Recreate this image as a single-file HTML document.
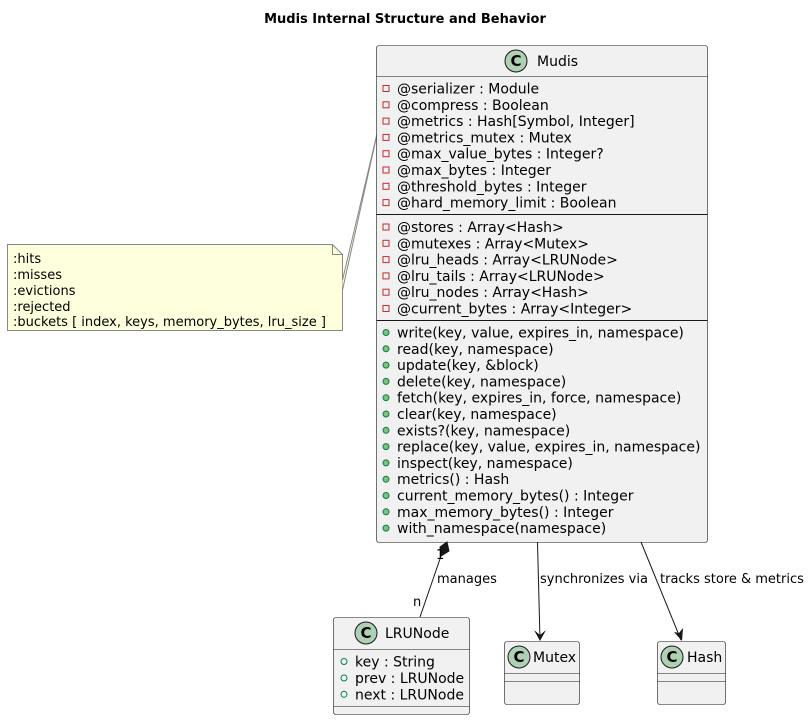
<!DOCTYPE html>
<html><head><meta charset="utf-8"><style>
html,body{margin:0;padding:0;background:#fff;}
svg{display:block;}
text{font-family:"DejaVu Sans","Liberation Sans",sans-serif;font-size:13px;fill:#000;}
.m{font-size:14px;}
.b{font-weight:bold;}
</style></head><body>
<svg width="810" height="720" viewBox="0 0 810 720" xmlns="http://www.w3.org/2000/svg">
<defs>
<g id="cic"><circle cx="0" cy="0" r="11" fill="#ADD1B2" stroke="#181818" stroke-width="1"/><text x="0" y="5" text-anchor="middle" style="font-size:15px;font-weight:bold">C</text></g>
<g id="priv"><rect x="-3" y="-3" width="6" height="6" fill="none" stroke="#C82930" stroke-width="1"/></g>
<g id="pub"><circle cx="0" cy="0" r="3" fill="#84BE84" stroke="#038048" stroke-width="1"/></g>
<g id="pubo"><circle cx="0" cy="0" r="3" fill="none" stroke="#038048" stroke-width="1"/></g>
</defs>
<text x="405" y="23" text-anchor="middle" class="b">Mudis Internal Structure and Behavior</text>

<!-- Note -->
<path d="M7.5,244.5 L332.5,244.5 L342.5,254.5 L342.5,330.5 L7.5,330.5 Z" fill="#FEFFDD" stroke="#888" stroke-width="1"/>
<path d="M332.5,244.5 L332.5,254.5 L342.5,254.5" fill="none" stroke="#888"/>
<path d="M342.5,280 L380,121 L342.5,290" fill="#FEFFDD" stroke="#888" stroke-width="1"/>
<text x="13" y="263">:hits</text>
<text x="13" y="279">:misses</text>
<text x="13" y="295">:evictions</text>
<text x="13" y="311">:rejected</text>
<text x="13" y="326">:buckets [ index, keys, memory_bytes, lru_size ]</text>

<!-- Mudis -->
<rect x="376.5" y="45.5" width="331" height="497" rx="2.5" fill="#F1F1F1" stroke="#181818" stroke-width="0.6"/>
<line x1="376.5" y1="76.5" x2="707.5" y2="76.5" stroke="#181818" stroke-width="0.6"/>
<line x1="376.5" y1="214.5" x2="707.5" y2="214.5" stroke="#181818" stroke-width="1"/>
<line x1="376.5" y1="320.5" x2="707.5" y2="320.5" stroke="#181818" stroke-width="1"/>
<use href="#cic" x="516" y="61"/>
<text x="537" y="66" class="m">Mudis</text>
<g class="m">
<use href="#priv" x="386" y="88.5"/><text class="m" x="397" y="93.5">@serializer : Module</text>
<use href="#priv" x="386" y="104.8"/><text class="m" x="397" y="109.8">@compress : Boolean</text>
<use href="#priv" x="386" y="121.1"/><text class="m" x="397" y="126.1">@metrics : Hash[Symbol, Integer]</text>
<use href="#priv" x="386" y="137.4"/><text class="m" x="397" y="142.4">@metrics_mutex : Mutex</text>
<use href="#priv" x="386" y="153.7"/><text class="m" x="397" y="158.7">@max_value_bytes : Integer?</text>
<use href="#priv" x="386" y="170"/><text class="m" x="397" y="175">@max_bytes : Integer</text>
<use href="#priv" x="386" y="186.3"/><text class="m" x="397" y="191.3">@threshold_bytes : Integer</text>
<use href="#priv" x="386" y="202.6"/><text class="m" x="397" y="207.6">@hard_memory_limit : Boolean</text>

<use href="#priv" x="386" y="227"/><text class="m" x="397" y="232">@stores : Array&lt;Hash&gt;</text>
<use href="#priv" x="386" y="243.3"/><text class="m" x="397" y="248.3">@mutexes : Array&lt;Mutex&gt;</text>
<use href="#priv" x="386" y="259.6"/><text class="m" x="397" y="264.6">@lru_heads : Array&lt;LRUNode&gt;</text>
<use href="#priv" x="386" y="275.9"/><text class="m" x="397" y="280.9">@lru_tails : Array&lt;LRUNode&gt;</text>
<use href="#priv" x="386" y="292.2"/><text class="m" x="397" y="297.2">@lru_nodes : Array&lt;Hash&gt;</text>
<use href="#priv" x="386" y="308.5"/><text class="m" x="397" y="313.5">@current_bytes : Array&lt;Integer&gt;</text>

<use href="#pub" x="386" y="332.5"/><text class="m" x="397" y="337.5">write(key, value, expires_in, namespace)</text>
<use href="#pub" x="386" y="348.8"/><text class="m" x="397" y="353.8">read(key, namespace)</text>
<use href="#pub" x="386" y="365.1"/><text class="m" x="397" y="370.1">update(key, &amp;block)</text>
<use href="#pub" x="386" y="381.4"/><text class="m" x="397" y="386.4">delete(key, namespace)</text>
<use href="#pub" x="386" y="397.7"/><text class="m" x="397" y="402.7">fetch(key, expires_in, force, namespace)</text>
<use href="#pub" x="386" y="414"/><text class="m" x="397" y="419">clear(key, namespace)</text>
<use href="#pub" x="386" y="430.3"/><text class="m" x="397" y="435.3">exists?(key, namespace)</text>
<use href="#pub" x="386" y="446.6"/><text class="m" x="397" y="451.6">replace(key, value, expires_in, namespace)</text>
<use href="#pub" x="386" y="462.9"/><text class="m" x="397" y="467.9">inspect(key, namespace)</text>
<use href="#pub" x="386" y="479.2"/><text class="m" x="397" y="484.2">metrics() : Hash</text>
<use href="#pub" x="386" y="495.5"/><text class="m" x="397" y="500.5">current_memory_bytes() : Integer</text>
<use href="#pub" x="386" y="511.8"/><text class="m" x="397" y="516.8">max_memory_bytes() : Integer</text>
<use href="#pub" x="386" y="528.1"/><text class="m" x="397" y="533.1">with_namespace(namespace)</text>
</g>

<!-- connectors -->
<line x1="441" y1="556" x2="420" y2="617" stroke="#181818" stroke-width="1"/>
<polygon points="447,542 449,551 441,556 440,547" fill="#181818" stroke="#181818"/>
<text x="436" y="559">1</text>
<text x="437" y="583">manages</text>
<text x="413" y="606">n</text>

<line x1="537.5" y1="542" x2="540" y2="640" stroke="#181818" stroke-width="1"/>
<path d="M534,630 L540,641 L546,630 L540,635 Z" fill="#181818"/>
<text x="540" y="583">synchronizes via</text>

<line x1="641" y1="542" x2="681" y2="640" stroke="#181818" stroke-width="1"/>
<path d="M674,632 L682,641 L683,628 L679,633 Z" fill="#181818"/>
<text x="660" y="583">tracks store &amp; metrics</text>

<!-- LRUNode -->
<rect x="333.5" y="617.5" width="136" height="97" rx="2.5" fill="#F1F1F1" stroke="#181818" stroke-width="0.6"/>
<line x1="333.5" y1="649.5" x2="469.5" y2="649.5" stroke="#181818" stroke-width="0.6"/>
<line x1="333.5" y1="706.5" x2="469.5" y2="706.5" stroke="#181818" stroke-width="0.6"/>
<use href="#cic" x="366" y="633"/>
<text x="385" y="638" class="m">LRUNode</text>
<use href="#pubo" x="344" y="661.5"/><text class="m" x="355" y="666.5">key : String</text>
<use href="#pubo" x="344" y="678"/><text class="m" x="355" y="683">prev : LRUNode</text>
<use href="#pubo" x="344" y="694.3"/><text class="m" x="355" y="699.3">next : LRUNode</text>

<!-- Mutex -->
<rect x="504.5" y="641.5" width="75" height="63" rx="2.5" fill="#F1F1F1" stroke="#181818" stroke-width="0.6"/>
<line x1="504.5" y1="673.5" x2="579.5" y2="673.5" stroke="#181818" stroke-width="0.6"/>
<line x1="504.5" y1="681.5" x2="579.5" y2="681.5" stroke="#181818" stroke-width="0.6"/>
<use href="#cic" x="519" y="657"/>
<text x="533" y="662" class="m">Mutex</text>

<!-- Hash -->
<rect x="657.5" y="641.5" width="68" height="63" rx="2.5" fill="#F1F1F1" stroke="#181818" stroke-width="0.6"/>
<line x1="657.5" y1="673.5" x2="725.5" y2="673.5" stroke="#181818" stroke-width="0.6"/>
<line x1="657.5" y1="681.5" x2="725.5" y2="681.5" stroke="#181818" stroke-width="0.6"/>
<use href="#cic" x="672" y="657"/>
<text x="687" y="662" class="m">Hash</text>
</svg>
</body></html>
